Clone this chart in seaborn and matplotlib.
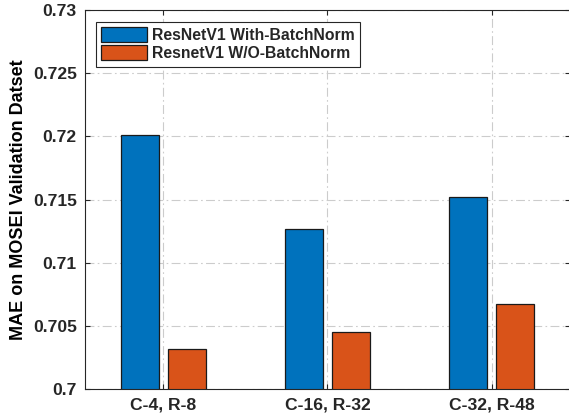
import matplotlib
matplotlib.use("Agg")
import matplotlib.pyplot as plt
import matplotlib.ticker as mticker
import seaborn as sns
import pandas as pd

configs = ["C-4, R-8", "C-16, R-32", "C-32, R-48"]
with_bn = [0.7201, 0.7127, 0.7152]
without_bn = [0.7032, 0.7045, 0.7067]
series_names = ["ResNetV1 With-BatchNorm", "ResnetV1 W/O-BatchNorm"]
y_ticks = [0.7, 0.705, 0.71, 0.715, 0.72, 0.725, 0.73]
y_label = "MAE on MOSEI Validation Datset"

df = pd.DataFrame({
    "config": configs * 2,
    "mae": with_bn + without_bn,
    "model": [series_names[0]] * 3 + [series_names[1]] * 3,
})

sns.set_style("white")
plt.rcParams["font.family"] = ["Liberation Sans", "DejaVu Sans"]
plt.rcParams["font.weight"] = "bold"

fig = plt.figure(figsize=(5.69, 4.19), dpi=100)
W, H = 569, 419
ax = fig.add_axes([85 / W, 1 - 389 / H, 485 / W, 379 / H])

palette = {series_names[0]: "#0072BD", series_names[1]: "#D95319"}
sns.barplot(data=df, x="config", y="mae", hue="model", palette=palette,
            order=configs, hue_order=series_names, width=0.568, gap=0.19,
            edgecolor="#1a1a1a", linewidth=0.9, errorbar=None, ax=ax,
            saturation=1)

ax.set_ylim(0.7, 0.73)
ax.set_xlim(-0.477, 2.477)
ax.set_yticks(y_ticks)
ax.yaxis.set_major_formatter(mticker.FuncFormatter(lambda v, p: f"{v:g}"))
ax.set_xlabel("")
ax.set_ylabel(y_label, fontsize=13, fontweight="bold", color="#000000", labelpad=4)

ax.set_axisbelow(True)
ax.grid(True, color="#cccccc", linestyle=(0, (8, 3, 1.5, 3)), linewidth=0.8)

for s in ax.spines.values():
    s.set_visible(True)
    s.set_color("#262626")
    s.set_linewidth(0.8)

ax.tick_params(axis="both", direction="in", length=3.5, width=0.8, color="#262626",
               labelsize=12.6, labelcolor="#262626", top=True, right=True,
               bottom=True, left=True, pad=6)
for lab in ax.get_xticklabels() + ax.get_yticklabels():
    lab.set_fontweight("bold")

leg = ax.legend(loc="upper left", bbox_to_anchor=(11 / 485, 1 - 12 / 379),
                borderaxespad=0, frameon=True, fancybox=False,
                handlelength=2.9, handleheight=1.05, labelspacing=0.15,
                handletextpad=0.3, borderpad=0.35, title=None,
                prop={"weight": "bold", "size": 11.3})
leg.get_frame().set_edgecolor("#262626")
leg.get_frame().set_linewidth(0.8)
leg.get_frame().set_alpha(1)

fig.savefig("out.png", dpi=100)
